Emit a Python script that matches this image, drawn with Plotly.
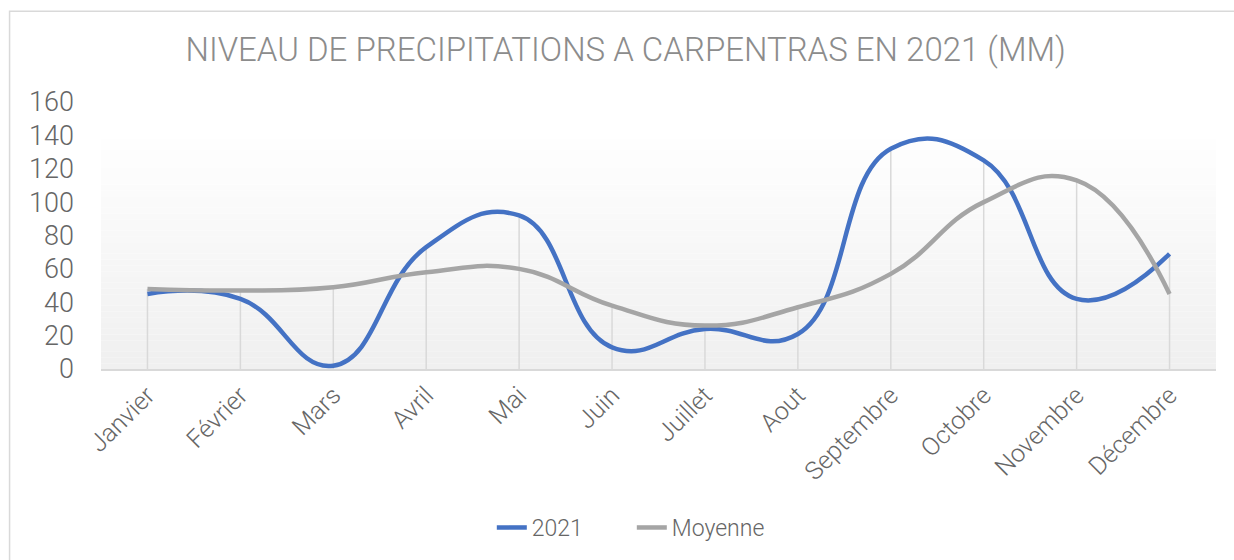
import plotly.graph_objects as go

mois = ["Janvier", "Février", "Mars", "Avril", "Mai", "Juin", "Juillet",
        "Aout", "Septembre", "Octobre", "Novembre", "Décembre"]
pluie_2021 = [45, 42, 2, 73, 92, 13, 24, 21, 132, 125, 42, 69]
moyenne = [48, 47, 49, 58, 60, 38, 26, 37, 57, 100, 113, 45]

font = "Roboto Light, Roboto"
txt = "#666666"

# lignes de rappel (du 0 jusqu'au max des deux séries)
drop_x, drop_y = [], []
for m, a, b in zip(mois, pluie_2021, moyenne):
    drop_x += [m, m, None]
    drop_y += [0, max(a, b), None]

fig = go.Figure()
fig.add_trace(go.Scatter(x=drop_x, y=drop_y, mode="lines",
                         line=dict(color="#d9d9d9", width=1.5),
                         showlegend=False, hoverinfo="skip"))
fig.add_trace(go.Scatter(x=mois, y=pluie_2021, name="2021", mode="lines",
                         line=dict(color="#4472c4", width=4.5, shape="spline", smoothing=1.3)))
fig.add_trace(go.Scatter(x=mois, y=moyenne, name="Moyenne", mode="lines",
                         line=dict(color="#a5a5a5", width=4.5, shape="spline", smoothing=1.3)))

# fond en dégradé (blanc -> gris clair)
shapes = []
n = 40
top = 138
for i in range(n):
    t = i / n
    c = int(255 - (255 - 240) * (1 - t))
    shapes.append(dict(type="rect", xref="paper", yref="y", layer="below",
                       x0=0, x1=1, y0=top * t, y1=top * (i + 1) / n,
                       fillcolor=f"rgb({c},{c},{c})", line=dict(width=0)))
shapes.append(dict(type="rect", xref="paper", yref="paper", x0=-0.082, x1=1.02,
                   y0=-0.74, y1=1.34, line=dict(color="#d9d9d9", width=1.5)))

fig.update_layout(
    width=1234, height=560,
    margin=dict(l=101, r=18, t=102, b=191),
    paper_bgcolor="white", plot_bgcolor="rgba(0,0,0,0)",
    title=dict(text="NIVEAU DE PRECIPITATIONS A CARPENTRAS EN 2021 (MM)",
               x=0.507, xref="container", xanchor="center",
               y=0.912, yref="container", yanchor="middle",
               font=dict(family=font, size=33, color="#8c8c8c", weight=300)),
    shapes=shapes,
    showlegend=True,
    legend=dict(orientation="h", xanchor="center", x=0.512, xref="container",
                yref="container", y=0.058, yanchor="middle",
                font=dict(family=font, size=23, color=txt, weight=300),
                traceorder="normal", entrywidth=95),
    font=dict(family=font, color=txt),
)
fig.update_xaxes(showgrid=False, showline=True, linecolor="#d9d9d9", linewidth=1.5,
                 tickangle=-45, tickfont=dict(family=font, size=25, color=txt, weight=300),
                 range=[-0.5, 11.5], ticks="", ticklabelstandoff=0)
fig.update_yaxes(range=[0, 160], dtick=20, showgrid=False, zeroline=False,
                 tickfont=dict(family=font, size=27, color=txt, weight=300), ticks="",
                 ticklabelstandoff=26)

fig.write_html("out.html", config={"displayModeBar": False},
               post_script="document.body.style.margin='0';")
